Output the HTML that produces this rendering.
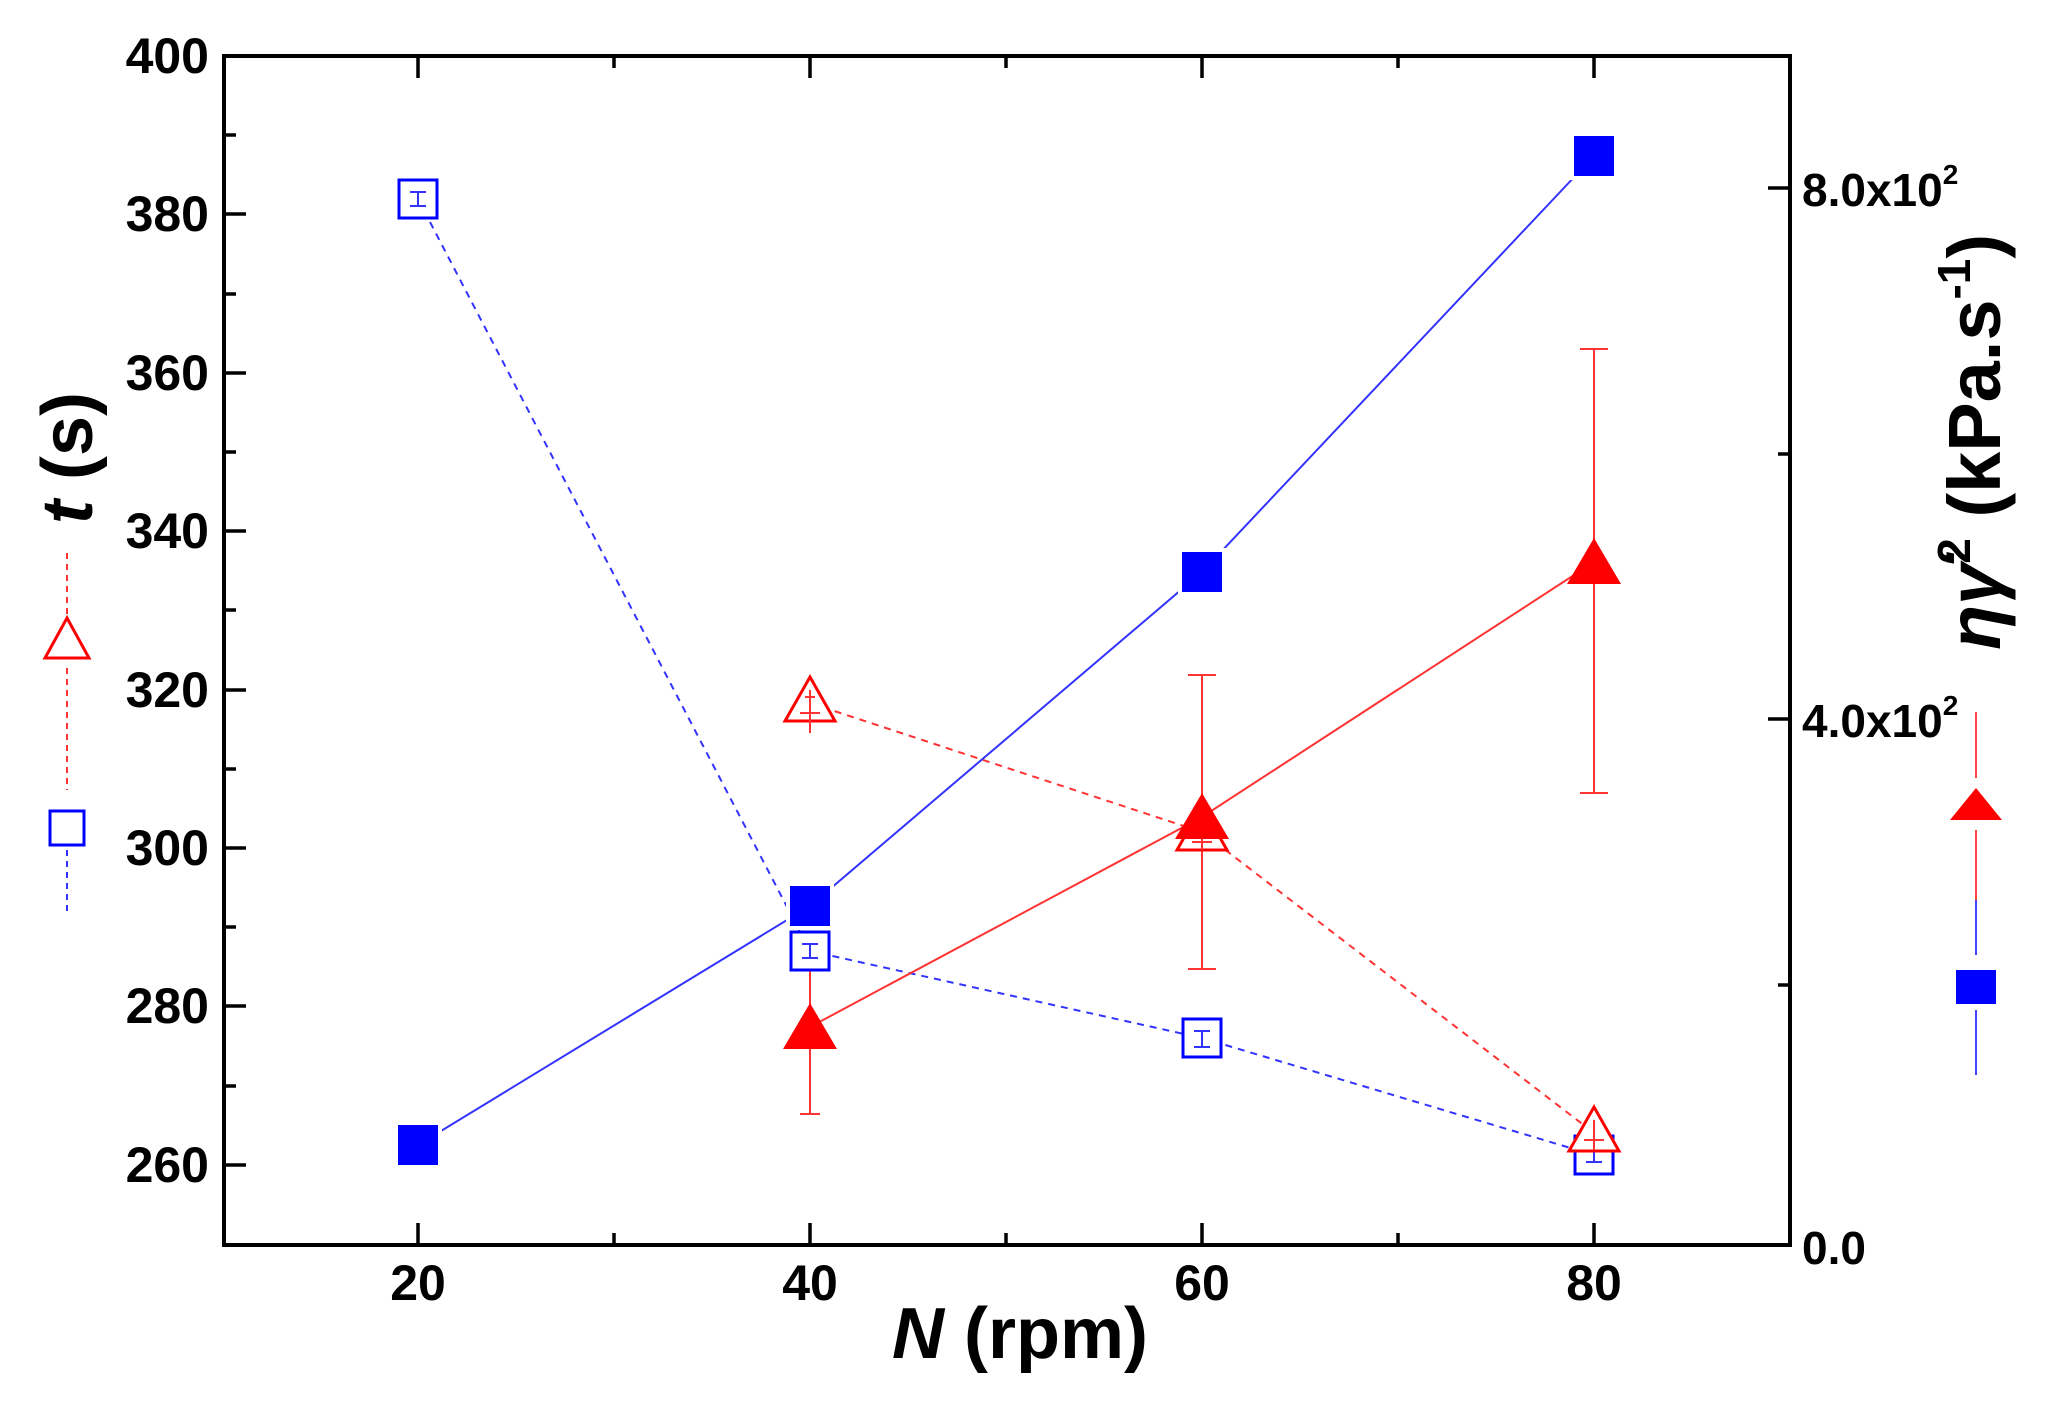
<!DOCTYPE html>
<html><head><style>html,body{margin:0;padding:0;background:#fff;}svg{display:block}</style></head>
<body>
<svg width="2056" height="1410" viewBox="0 0 2056 1410" xmlns="http://www.w3.org/2000/svg" font-family="Liberation Sans, Arial, sans-serif" font-weight="bold">
<rect x="224" y="56" width="1566" height="1189" fill="none" stroke="#000" stroke-width="4"/>
<g stroke="#000" stroke-width="3.5">
<line x1="418" y1="1245" x2="418" y2="1223"/><line x1="614" y1="1245" x2="614" y2="1233"/>
<line x1="810" y1="1245" x2="810" y2="1223"/><line x1="1006" y1="1245" x2="1006" y2="1233"/>
<line x1="1202" y1="1245" x2="1202" y2="1223"/><line x1="1398" y1="1245" x2="1398" y2="1233"/>
<line x1="1594" y1="1245" x2="1594" y2="1223"/>
<line x1="418" y1="56" x2="418" y2="78"/><line x1="614" y1="56" x2="614" y2="68"/>
<line x1="810" y1="56" x2="810" y2="78"/><line x1="1006" y1="56" x2="1006" y2="68"/>
<line x1="1202" y1="56" x2="1202" y2="78"/><line x1="1398" y1="56" x2="1398" y2="68"/>
<line x1="1594" y1="56" x2="1594" y2="78"/>
<line x1="224" y1="214" x2="246" y2="214"/><line x1="224" y1="373" x2="246" y2="373"/>
<line x1="224" y1="531" x2="246" y2="531"/><line x1="224" y1="690" x2="246" y2="690"/>
<line x1="224" y1="848" x2="246" y2="848"/><line x1="224" y1="1006" x2="246" y2="1006"/>
<line x1="224" y1="1165" x2="246" y2="1165"/>
<line x1="224" y1="135" x2="236" y2="135"/><line x1="224" y1="294" x2="236" y2="294"/>
<line x1="224" y1="452" x2="236" y2="452"/><line x1="224" y1="610" x2="236" y2="610"/>
<line x1="224" y1="769" x2="236" y2="769"/><line x1="224" y1="927" x2="236" y2="927"/>
<line x1="224" y1="1086" x2="236" y2="1086"/>
<line x1="1790" y1="188" x2="1768" y2="188"/><line x1="1790" y1="454" x2="1778" y2="454"/>
<line x1="1790" y1="719" x2="1768" y2="719"/><line x1="1790" y1="985" x2="1778" y2="985"/>
</g>
<g font-size="50" text-anchor="middle" fill="#000">
<text x="418" y="1300">20</text><text x="810" y="1300">40</text>
<text x="1202" y="1300">60</text><text x="1594" y="1300">80</text>
</g>
<g font-size="50" text-anchor="end" fill="#000">
<text x="209" y="73">400</text><text x="209" y="231">380</text><text x="209" y="390">360</text>
<text x="209" y="548">340</text><text x="209" y="707">320</text><text x="209" y="865">300</text>
<text x="209" y="1023">280</text><text x="209" y="1182">260</text>
</g>
<g font-size="46" fill="#000">
<text x="1802" y="206">8.0x10<tspan font-size="28" dy="-22">2</tspan></text>
<text x="1802" y="737">4.0x10<tspan font-size="28" dy="-22">2</tspan></text>
<text x="1802" y="1264">0.0</text>
</g>
<text x="1020" y="1358" font-size="72" text-anchor="middle"><tspan font-style="italic">N</tspan> (rpm)</text>
<text transform="translate(92,458) rotate(-90)" font-size="72" text-anchor="middle"><tspan font-style="italic">t</tspan> (s)</text>
<text transform="translate(2000,442) rotate(-90)" font-size="74" text-anchor="middle"><tspan font-style="italic">ηγ̇</tspan><tspan font-size="46" dy="-30">2</tspan><tspan dy="30"> (kPa.s</tspan><tspan font-size="46" dy="-30">-1</tspan><tspan dy="30">)</tspan></text>
<g fill="none" stroke-width="2">
<line x1="67" y1="553" x2="67" y2="618" stroke="#f33" stroke-dasharray="6,5"/>
<polygon points="67,618 89,658 45,658" stroke="#f00" stroke-width="3"/>
<line x1="67" y1="668" x2="67" y2="790" stroke="#f33" stroke-dasharray="6,5"/>
<rect x="50" y="811" width="34" height="34" stroke="#00f" stroke-width="3"/>
<line x1="67" y1="850" x2="67" y2="916" stroke="#33f" stroke-dasharray="6,5"/>
</g>
<line x1="1976" y1="712" x2="1976" y2="778" stroke="#f44" stroke-width="2"/>
<polygon points="1976,788 2002,820 1950,820" fill="#f00"/>
<line x1="1976" y1="830" x2="1976" y2="900" stroke="#f44" stroke-width="2"/>
<line x1="1976" y1="900" x2="1976" y2="955" stroke="#44f" stroke-width="2"/>
<rect x="1956" y="970" width="40" height="34" fill="#00f"/>
<line x1="1976" y1="1010" x2="1976" y2="1075" stroke="#44f" stroke-width="2"/>
<g fill="none" stroke-width="2">
<polyline points="418,199 810,951 1202,1038 1594,1155" stroke="#33f" stroke-dasharray="7,6"/>
<polyline points="810,703 1202,832 1594,1133" stroke="#f33" stroke-dasharray="7,6"/>
<polyline points="418,1145 810,906 1202,572 1594,156" stroke="#33f"/>
<polyline points="810,1027 1202,817 1594,562" stroke="#f33"/>
<g stroke="#f33">
<line x1="810" y1="950" x2="810" y2="1114"/><line x1="800" y1="1114" x2="820" y2="1114"/>
<line x1="1202" y1="675" x2="1202" y2="969"/><line x1="1188" y1="675" x2="1216" y2="675"/><line x1="1188" y1="969" x2="1216" y2="969"/>
<line x1="1594" y1="349" x2="1594" y2="793"/><line x1="1580" y1="349" x2="1608" y2="349"/><line x1="1580" y1="793" x2="1608" y2="793"/>
</g>
</g>
<g fill="#fff">
<rect x="394" y="1121" width="48" height="48"/><rect x="786" y="882" width="48" height="48"/>
<rect x="1178" y="548" width="48" height="48"/><rect x="1570" y="132" width="48" height="48"/>
</g>
<g fill="#fff" stroke="#00f" stroke-width="3">
<rect x="399" y="180" width="38" height="38"/><rect x="791" y="932" width="38" height="38"/>
<rect x="1183" y="1019" width="38" height="38"/><rect x="1575" y="1136" width="38" height="38"/>
</g>
<g stroke="#33f" stroke-width="2">
<line x1="410" y1="192" x2="426" y2="192"/><line x1="410" y1="206" x2="426" y2="206"/><line x1="418" y1="192" x2="418" y2="206"/>
<line x1="802" y1="944" x2="818" y2="944"/><line x1="802" y1="958" x2="818" y2="958"/><line x1="810" y1="944" x2="810" y2="958"/>
<line x1="1194" y1="1031" x2="1210" y2="1031"/><line x1="1194" y1="1047" x2="1210" y2="1047"/><line x1="1202" y1="1031" x2="1202" y2="1047"/>
<line x1="1586" y1="1148" x2="1602" y2="1148"/><line x1="1586" y1="1162" x2="1602" y2="1162"/><line x1="1594" y1="1148" x2="1594" y2="1162"/>
</g>
<g fill="#fff" stroke="#f00" stroke-width="3">
<polygon points="810,677 835,721 785,721"/>
<polygon points="1202,806 1227,850 1177,850"/>
<polygon points="1594,1107 1619,1151 1569,1151"/>
</g>
<g stroke="#f33" stroke-width="2">
<line x1="810" y1="690" x2="810" y2="733"/><line x1="800" y1="713" x2="820" y2="713"/><line x1="805" y1="697" x2="815" y2="697"/>
<line x1="1192" y1="842" x2="1212" y2="842"/><line x1="1202" y1="820" x2="1202" y2="850"/>
<line x1="1584" y1="1140" x2="1604" y2="1140"/><line x1="1594" y1="1120" x2="1594" y2="1150"/>
</g>
<g fill="#00f">
<rect x="398" y="1125" width="40" height="40"/><rect x="790" y="886" width="40" height="40"/>
<rect x="1182" y="552" width="40" height="40"/><rect x="1574" y="136" width="40" height="40"/>
</g>
<g fill="#f00">
<polygon points="810,1003 837,1049 783,1049"/>
<polygon points="1202,793 1229,839 1175,839"/>
<polygon points="1594,538 1621,584 1567,584"/>
</g>
</svg>
</body></html>
